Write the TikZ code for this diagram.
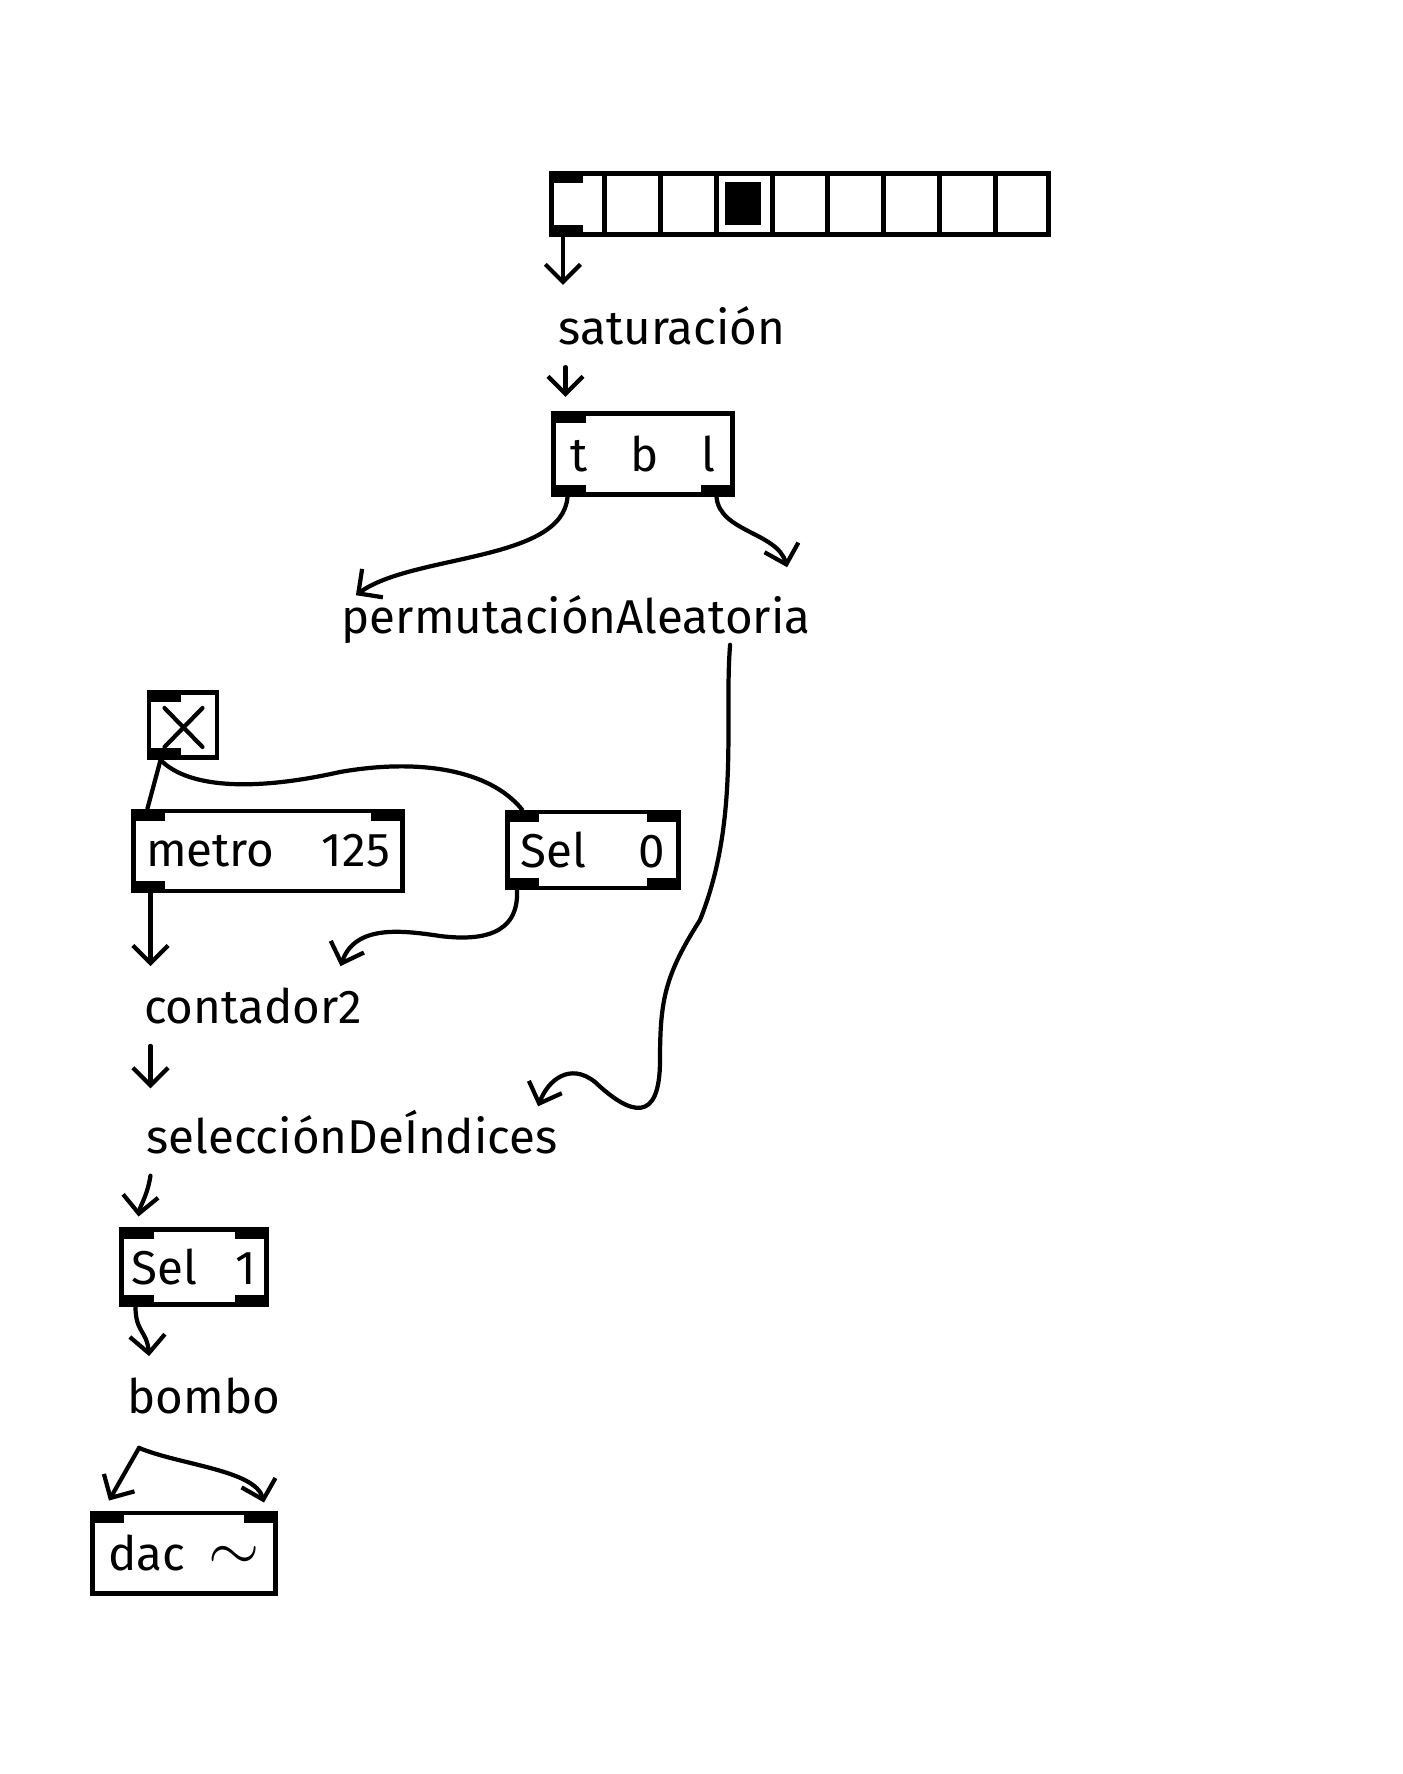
\documentclass[tikz,border=0pt]{standalone}
\usepackage{fontspec}
\setmainfont{Fira Sans}
\usepackage{tikz}
\usetikzlibrary{arrows.meta, calc}
\newcommand{\hand}{\fontsize{13.5}{16}\selectfont}
% inlet / outlet tabs of a patch box
\newcommand{\portNW}[1]{\fill (#1.north west) rectangle ++(34,12);}
\newcommand{\portNE}[1]{\fill (#1.north east) rectangle ++(-34,12);}
\newcommand{\portSW}[1]{\fill (#1.south west) rectangle ++(34,-12);}
\newcommand{\portSE}[1]{\fill (#1.south east) rectangle ++(-34,-12);}
\tikzset{
  pdobj/.style={rectangle, draw, line width=1.4pt, inner sep=0pt, font=\hand},
  msg/.style={font=\hand, inner xsep=0pt, inner ysep=6pt},
  wire/.style={line width=1.2pt, line cap=round, -{Straight Barb[length=5pt, width=10pt]}},
  link/.style={line width=1.2pt, line cap=round}
}

\begin{document}
\begin{tikzpicture}[x=0.01cm, y=-0.01cm]
  \useasboundingbox (0,0) rectangle (1402,1774);
  % radio array
  \node[pdobj, minimum width=4.97cm, minimum height=0.61cm] (radio) at (800,204) {};
  \foreach \i in {1,...,8}
    \draw[line width=1.4pt] ($(radio.north west)!\i/9!(radio.north east)$) -- ($(radio.south west)!\i/9!(radio.south east)$);
  \fill ($(radio.north west)!3.15/9!(radio.north east)+(0,11)$) rectangle ($(radio.south west)!3.8/9!(radio.south east)+(0,-12)$);
  \portNW{radio} \portSW{radio}
  % objects and messages
  \node[msg] (sat) at (672,326) {saturación};
  \node[pdobj, minimum width=1.78cm, minimum height=0.81cm] (tbl) at (643,454) {t\hspace{0.9em}b\hspace{0.9em}l};
  \portNW{tbl} \portSW{tbl} \portSE{tbl}
  \node[msg, inner ysep=0pt] (perm) at (576,620) {permutaciónAleatoria};
  \node[pdobj, minimum width=0.68cm, minimum height=0.65cm] (tog) at (183,725) {};
  \draw[link] ($(tog.north west)+(18,18)$) -- ($(tog.south east)+(-17,-13)$);
  \draw[link] ($(tog.north east)+(-17,18)$) -- ($(tog.south west)+(18,-13)$);
  \portNW{tog} \portSW{tog}
  \node[pdobj, minimum width=2.68cm, minimum height=0.80cm] (metro) at (268,851) {metro\hspace{1em}125};
  \portNW{metro} \portNE{metro} \portSW{metro}
  \node[pdobj, minimum width=1.71cm, minimum height=0.76cm] (sel0) at (593,850) {Sel\hspace{1.1em}0};
  \portNW{sel0} \portNE{sel0} \portSW{sel0} \portSE{sel0}
  \node[msg] (cont) at (253,1006) {contador2};
  \node[msg] (selidx) at (352,1132) {selecciónDeÍndices};
  \node[pdobj, minimum width=1.44cm, minimum height=0.75cm] (sel1) at (194,1267) {Sel\hspace{0.8em}1};
  \portNW{sel1} \portNE{sel1} \portSW{sel1} \portSE{sel1}
  \node[msg] (bombo) at (204,1396) {bombo};
  \node[pdobj, minimum width=1.83cm, minimum height=0.80cm] (dac) at (184,1553) {dac\hspace{0.5em}\scalebox{1.3}{$\sim$}};
  \portNW{dac} \portNE{dac}
  % port coordinates
  \coordinate (radioOut) at ($(radio.south west)+(14,0)$);
  \coordinate (tblIn) at ($(tbl.north west)+(14,0)$);
  \coordinate (tblOutL) at ($(tbl.south west)+(16,0)$);
  \coordinate (tblOutR) at ($(tbl.south east)+(-18,0)$);
  \coordinate (permInL) at ($(perm.north west)+(15,0)$);
  \coordinate (permInR) at ($(perm.north east)+(-24,-28)$);
  \coordinate (permOut) at ($(perm.south east)+(-81,0)$);
  \coordinate (togOut) at ($(tog.south west)+(14,0)$);
  \coordinate (metroIn) at ($(metro.north west)+(16,0)$);
  \coordinate (metroOut) at ($(metro.south west)+(19,0)$);
  \coordinate (sel0In) at ($(sel0.north west)+(17,0)$);
  \coordinate (sel0Out) at ($(sel0.south west)+(12,0)$);
  \coordinate (contIn) at ($(cont.north east)+(-22,0)$);
  \coordinate (selidxIn) at ($(selidx.north east)+(-20,18)$);
  \coordinate (sel1In) at ($(sel1.north west)+(18,0)$);
  \coordinate (sel1Out) at ($(sel1.south west)+(16,0)$);
  \coordinate (bomboIn) at ($(bombo.north west)+(22,0)$);
  \coordinate (bomboOut) at ($(bombo.south west)+(12,12)$);
  % connections
  \draw[wire] (radioOut) -- (radioOut |- sat.north);
  \draw[wire, shorten >=4pt] (tblIn |- sat.south) -- (tblIn);
  \draw[wire] (tblOutL) .. controls +(-5,65) and +(56,-41) .. (permInL);
  \draw[wire] (tblOutR) .. controls +(3,35) and +(-10,-35) .. (permInR);
  \draw[wire] (permOut) .. controls (724,720) and (740,820) .. (700,920)
    .. controls (665,975) and (660,1000) .. (660,1060)
    .. controls (660,1125) and (630,1115) .. (595,1082)
    .. controls (570,1062) and (548,1080) .. (selidxIn);
  \draw[link] (togOut) -- (metroIn);
  \draw[link] (togOut) .. controls (190,790) and (260,790) .. (340,772)
    .. controls (420,758) and (490,770) .. (sel0In);
  \draw[wire] (metroOut) -- (metroOut |- cont.north);
  \draw[wire] (sel0Out) .. controls +(2,45) and +(40,5) .. (440,936)
    .. controls (400,930) and (355,925) .. (contIn);
  \draw[wire] (metroOut |- cont.south) -- (metroOut |- selidx.north);
  \draw[wire, shorten >=3pt] (metroOut |- selidx.south) .. controls +(-3,20) and +(2,-20) .. (sel1In);
  \draw[wire] (sel1Out) .. controls +(0,25) and +(-2,-25) .. (bomboIn);
  \draw[wire] (bomboOut) -- ($(dac.north west)+(19,-10)$);
  \draw[wire] (bomboOut) .. controls (180,1465) and (255,1470) .. ($(dac.north east)+(-14,-8)$);
\end{tikzpicture}
\end{document}
